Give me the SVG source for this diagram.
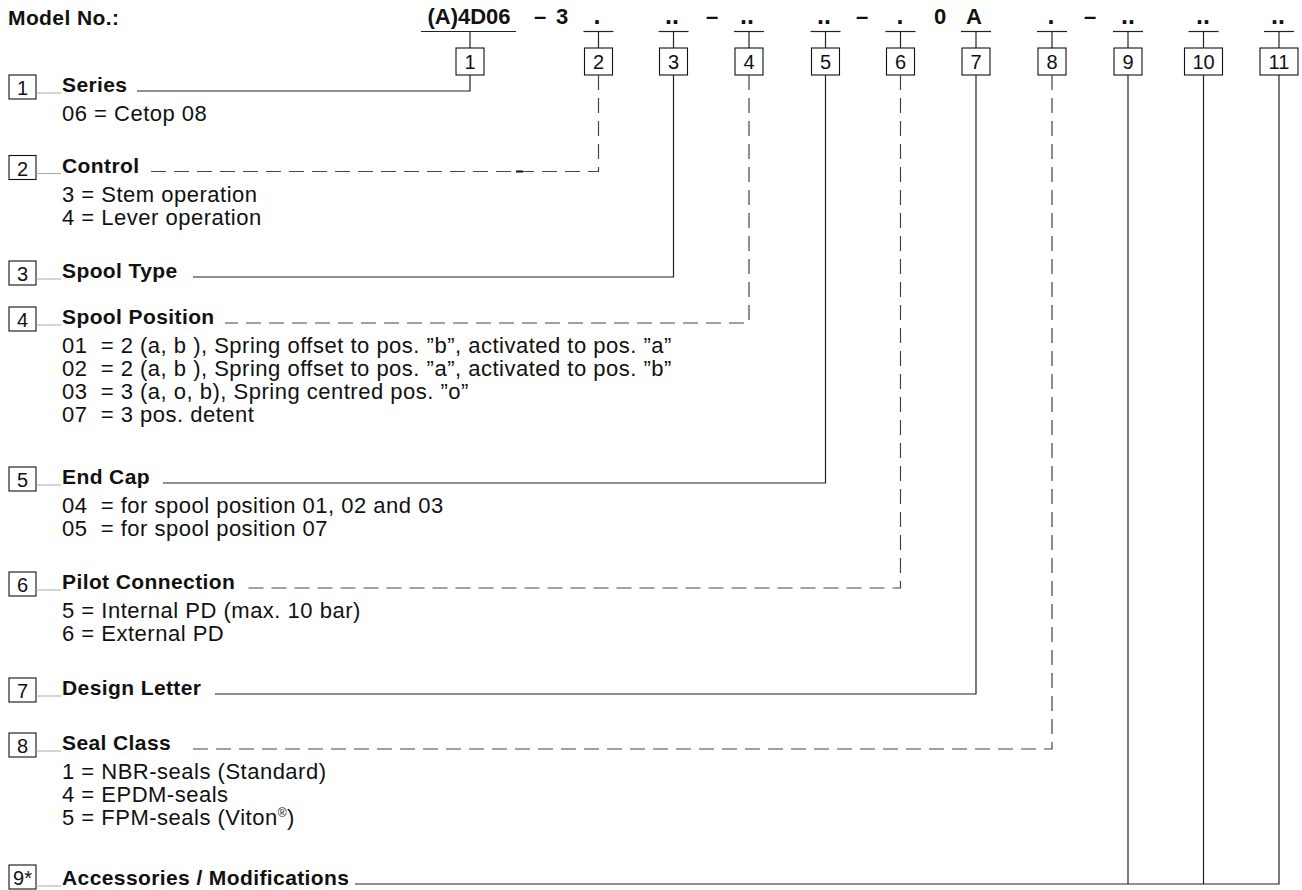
<svg xmlns="http://www.w3.org/2000/svg" width="1302" height="890" viewBox="0 0 1302 890">
<style>
text{font-family:"Liberation Sans",Arial,Helvetica,sans-serif;fill:#111}
.h{font-size:21px;font-weight:bold;letter-spacing:0.4px}
.b{font-size:22px;letter-spacing:0.5px}
.code{font-size:22px;font-weight:bold;text-anchor:middle}
.dot{font-size:25px;font-weight:bold;text-anchor:middle}
.num{font-size:20px;text-anchor:middle}
.box{fill:#fff;stroke:#111;stroke-width:1.1}
.ul{stroke:#222;stroke-width:1.2}
.solid{fill:none;stroke:#222;stroke-width:1.2}
.dash{fill:none;stroke:#444;stroke-width:1.2;stroke-dasharray:15 8}
.lead{stroke:#aaa;stroke-width:1}
</style>
<rect width="1302" height="890" fill="#fff"/>
<text class="h" x="8" y="25">Model No.:</text>
<g id="code">
<text class="code" x="469" y="24">(A)4D06</text>
<text class="code" x="540" y="24">–</text>
<text class="code" x="562" y="24">3</text>
<text class="dot" x="597" y="24">.</text>
<text class="dot" x="672" y="24">..</text>
<text class="code" x="712" y="24">–</text>
<text class="dot" x="747" y="24">..</text>
<text class="dot" x="824" y="24">..</text>
<text class="code" x="862" y="24">–</text>
<text class="dot" x="900" y="24">.</text>
<text class="code" x="940" y="24">0</text>
<text class="code" x="974" y="24">A</text>
<text class="dot" x="1051" y="24">.</text>
<text class="code" x="1090" y="24">–</text>
<text class="dot" x="1128" y="24">..</text>
<text class="dot" x="1203" y="24">..</text>
<text class="dot" x="1278" y="24">..</text>
</g>
<g id="top-keys">
<g id="k1"><line class="ul" x1="421" y1="31.5" x2="516" y2="31.5"/><line class="ul" x1="470" y1="31.5" x2="470" y2="48"/><rect class="box" x="456" y="48" width="28" height="27"/><text class="num" x="470" y="69">1</text></g>
<g id="k2"><line class="ul" x1="583.5" y1="31.5" x2="613.5" y2="31.5"/><line class="ul" x1="598.5" y1="31.5" x2="598.5" y2="48"/><rect class="box" x="584.5" y="48" width="28" height="27"/><text class="num" x="598.5" y="69">2</text></g>
<g id="k3"><line class="ul" x1="658.5" y1="31.5" x2="688.5" y2="31.5"/><line class="ul" x1="673.5" y1="31.5" x2="673.5" y2="48"/><rect class="box" x="659.5" y="48" width="28" height="27"/><text class="num" x="673.5" y="69">3</text></g>
<g id="k4"><line class="ul" x1="734" y1="31.5" x2="764" y2="31.5"/><line class="ul" x1="749" y1="31.5" x2="749" y2="48"/><rect class="box" x="735" y="48" width="28" height="27"/><text class="num" x="749" y="69">4</text></g>
<g id="k5"><line class="ul" x1="810.5" y1="31.5" x2="840.5" y2="31.5"/><line class="ul" x1="825.5" y1="31.5" x2="825.5" y2="48"/><rect class="box" x="811.5" y="48" width="28" height="27"/><text class="num" x="825.5" y="69">5</text></g>
<g id="k6"><line class="ul" x1="885.5" y1="31.5" x2="915.5" y2="31.5"/><line class="ul" x1="900.5" y1="31.5" x2="900.5" y2="48"/><rect class="box" x="886.5" y="48" width="28" height="27"/><text class="num" x="900.5" y="69">6</text></g>
<g id="k7"><line class="ul" x1="961" y1="31.5" x2="991" y2="31.5"/><line class="ul" x1="976" y1="31.5" x2="976" y2="48"/><rect class="box" x="962" y="48" width="28" height="27"/><text class="num" x="976" y="69">7</text></g>
<g id="k8"><line class="ul" x1="1037" y1="31.5" x2="1067" y2="31.5"/><line class="ul" x1="1052" y1="31.5" x2="1052" y2="48"/><rect class="box" x="1038" y="48" width="28" height="27"/><text class="num" x="1052" y="69">8</text></g>
<g id="k9"><line class="ul" x1="1113" y1="31.5" x2="1143" y2="31.5"/><line class="ul" x1="1128" y1="31.5" x2="1128" y2="48"/><rect class="box" x="1114" y="48" width="28" height="27"/><text class="num" x="1128" y="69">9</text></g>
<g id="k10"><line class="ul" x1="1188.5" y1="31.5" x2="1218.5" y2="31.5"/><line class="ul" x1="1203.5" y1="31.5" x2="1203.5" y2="48"/><rect class="box" x="1184.5" y="48" width="38" height="27"/><text class="num" x="1203.5" y="69">10</text></g>
<g id="k11"><line class="ul" x1="1264" y1="31.5" x2="1294" y2="31.5"/><line class="ul" x1="1279" y1="31.5" x2="1279" y2="48"/><rect class="box" x="1260" y="48" width="38" height="27"/><text class="num" x="1279" y="69">11</text></g>
</g>
<g id="connectors">
<path class="solid" d="M470,75 V91 H137"/>
<path class="dash" d="M598.5,75 V171.5 H150"/>
<line x1="516" y1="171.5" x2="523" y2="171.5" stroke="#111" stroke-width="2"/>
<path class="solid" d="M673.5,75 V277 H193"/>
<path class="dash" d="M749,75 V323 H225"/>
<path class="solid" d="M825.5,75 V483 H163"/>
<path class="dash" d="M900.5,75 V588 H248"/>
<path class="solid" d="M976,75 V694 H215"/>
<path class="dash" d="M1052,75 V749 H185"/>
<path class="solid" d="M1279,75 V884 H355"/>
<path class="solid" d="M1128,75 V884"/>
<path class="solid" d="M1203.5,75 V884"/>
</g>
<g id="item1"><rect class="box" x="9" y="75" width="27" height="24"/><text class="num" x="22.5" y="95">1</text><line class="lead" x1="36" y1="93" x2="61" y2="93"/>
<text class="h" x="62" y="92">Series</text><text class="b" x="62" y="121">06 = Cetop 08</text></g>
<g id="item2"><rect class="box" x="9" y="155.5" width="27" height="24"/><text class="num" x="22.5" y="175.5">2</text><line class="lead" x1="36" y1="173.5" x2="61" y2="173.5"/>
<text class="h" x="62" y="172.5">Control</text><text class="b" x="62" y="201.5">3 = Stem operation</text><text class="b" x="62" y="224.5">4 = Lever operation</text></g>
<g id="item3"><rect class="box" x="9" y="261" width="27" height="24"/><text class="num" x="22.5" y="281">3</text><line class="lead" x1="36" y1="279" x2="61" y2="279"/>
<text class="h" x="62" y="278">Spool Type</text></g>
<g id="item4"><rect class="box" x="9" y="307" width="27" height="24"/><text class="num" x="22.5" y="327">4</text><line class="lead" x1="36" y1="325" x2="61" y2="325"/>
<text class="h" x="62" y="324">Spool Position</text>
<text class="b" x="62" y="353">01&#160; = 2 (a, b ), Spring offset to pos. ”b”, activated to pos. ”a”</text>
<text class="b" x="62" y="376">02&#160; = 2 (a, b ), Spring offset to pos. ”a”, activated to pos. ”b”</text>
<text class="b" x="62" y="399">03&#160; = 3 (a, o, b), Spring centred pos. ”o”</text>
<text class="b" x="62" y="422">07&#160; = 3 pos. detent</text></g>
<g id="item5"><rect class="box" x="9" y="467" width="27" height="24"/><text class="num" x="22.5" y="487">5</text><line class="lead" x1="36" y1="485" x2="61" y2="485"/>
<text class="h" x="62" y="484">End Cap</text>
<text class="b" x="62" y="513">04&#160; = for spool position 01, 02 and 03</text>
<text class="b" x="62" y="536">05&#160; = for spool position 07</text></g>
<g id="item6"><rect class="box" x="9" y="572" width="27" height="24"/><text class="num" x="22.5" y="592">6</text><line class="lead" x1="36" y1="590" x2="61" y2="590"/>
<text class="h" x="62" y="589">Pilot Connection</text>
<text class="b" x="62" y="618">5 = Internal PD (max. 10 bar)</text>
<text class="b" x="62" y="641">6 = External PD</text></g>
<g id="item7"><rect class="box" x="9" y="678" width="27" height="24"/><text class="num" x="22.5" y="698">7</text><line class="lead" x1="36" y1="696" x2="61" y2="696"/>
<text class="h" x="62" y="695">Design Letter</text></g>
<g id="item8"><rect class="box" x="9" y="733" width="27" height="24"/><text class="num" x="22.5" y="753">8</text><line class="lead" x1="36" y1="751" x2="61" y2="751"/>
<text class="h" x="62" y="750">Seal Class</text>
<text class="b" x="62" y="779">1 = NBR-seals (Standard)</text>
<text class="b" x="62" y="802">4 = EPDM-seals</text>
<text class="b" x="62" y="825">5 = FPM-seals (Viton<tspan font-size="12" dy="-8">®</tspan><tspan dy="8">)</tspan></text></g>
<g id="item9"><rect class="box" x="9" y="865" width="27" height="24"/><text class="num" x="22.5" y="885">9*</text><line class="lead" x1="36" y1="886" x2="61" y2="886"/>
<text class="h" x="62" y="885">Accessories / Modifications</text></g>
</svg>
